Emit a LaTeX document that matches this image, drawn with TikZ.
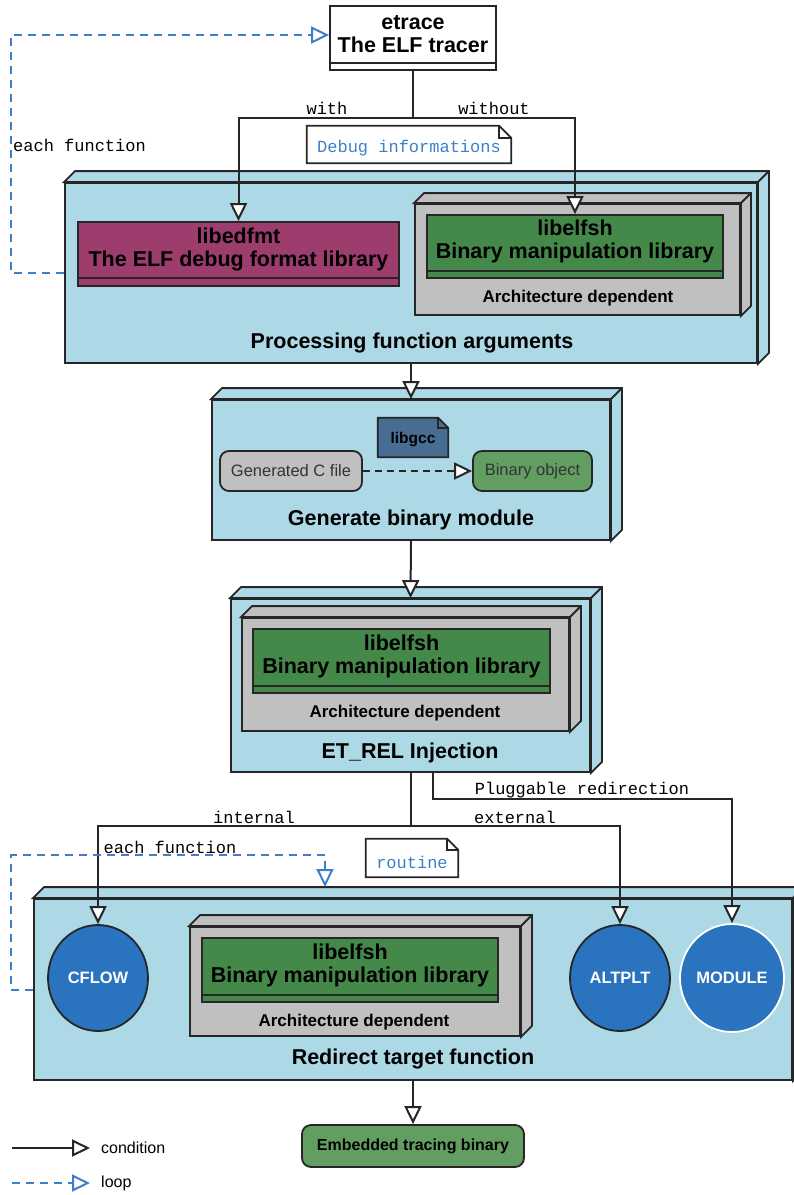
\documentclass[tikz,border=0pt]{standalone}
\usepackage{fontspec}
\setmainfont{Liberation Sans}
\setmonofont{Liberation Mono}
\usetikzlibrary{arrows.meta,shapes.geometric}

\definecolor{boxblue}{HTML}{ADD8E6}
\definecolor{archgray}{HTML}{C0C0C0}
\definecolor{libgreen}{HTML}{45894A}
\definecolor{dbgpurple}{HTML}{9C3D6E}
\definecolor{objgreen}{HTML}{629E62}
\definecolor{gccblue}{HTML}{476D93}
\definecolor{hookblue}{HTML}{2A73BE}
\definecolor{loopblue}{HTML}{3C80CC}

\tikzstyle{boxline}=[draw=black!85,line width=1.8pt,inner sep=0pt]
\tikzstyle{classbox}=[boxline,fill=white]
\tikzstyle{stage}=[boxline,fill=boxblue]
\tikzstyle{archbox}=[boxline,fill=archgray]
\tikzstyle{libbox}=[boxline,fill=libgreen]
\tikzstyle{dbgbox}=[boxline,fill=dbgpurple]
\tikzstyle{notebox}=[inner sep=0pt]
\tikzstyle{filebox}=[boxline,rounded corners=9pt,fill=archgray,text=black!80,font=\fontsize{16.5}{18}\selectfont]
\tikzstyle{objbox}=[filebox,fill=objgreen]
\tikzstyle{hook}=[shape=ellipse,boxline,fill=hookblue,text=white,font=\bfseries\fontsize{16.5}{18}\selectfont,minimum width=100pt,minimum height=106pt]
\tikzstyle{titletext}=[inner sep=0pt,align=center,font=\bfseries\fontsize{21.5}{23}\selectfont]
\tikzstyle{archtext}=[inner sep=0pt,font=\bfseries\fontsize{17}{19}\selectfont]
\tikzstyle{edgetext}=[inner sep=0pt,font=\ttfamily\fontsize{17}{19}\selectfont]
\tikzstyle{notetext}=[edgetext,text=loopblue]
\tikzstyle{legendtext}=[inner sep=0pt,anchor=west,font=\fontsize{16}{18}\selectfont]
\tikzstyle{cond}=[draw=black!85,line width=2pt,-{Triangle[length=18pt,width=17pt,fill=white]}]
\tikzstyle{dashcond}=[cond,dash pattern=on 7pt off 5pt]
\tikzstyle{loopedge}=[cond,draw=loopblue,dash pattern=on 8pt off 6pt]

% top and right faces of a 3d box
\newcommand{\depthfaces}[3]{%
  \draw[boxline,fill=#3] (#1.north west) -- ++(#2,-#2) -- ([shift={(#2,-#2)}]#1.north east)
    -- ([shift={(#2,-#2)}]#1.south east) -- (#1.south east) -- (#1.north east) -- cycle;
  \draw[boxline] (#1.north east) -- ++(#2,-#2);
}
% note with a folded corner
\newcommand{\foldnote}[3]{%
  \draw[boxline,fill=#3] (#1.north west) -- ([xshift=-#2]#1.north east) -- ([yshift=-#2]#1.north east)
    -- (#1.south east) -- (#1.south west) -- cycle;
  \draw[boxline] ([xshift=-#2]#1.north east) |- ([yshift=-#2]#1.north east);
}
\newcommand{\sepline}[2]{%
  \draw[boxline] ([yshift=#2]#1.south west) -- ([yshift=#2]#1.south east);
}

\begin{document}
\begin{tikzpicture}[x=1pt,y=-1pt]
\useasboundingbox (0,0) rectangle (794,1195);
% etrace
\node[classbox,minimum width=166pt,minimum height=64pt] (etrace) at (413,38) {};
\sepline{etrace}{8pt}
\node[titletext] (etracetxt) at (413,34) {etrace\\The ELF tracer};
\node[notebox,minimum width=204pt,minimum height=37pt] (debugnote) at (409,144.5) {};
\foldnote{debugnote}{12pt}{white}
\node[notetext] (debugtxt) at (409,148) {Debug informations};
% processing function arguments
\node[stage,minimum width=692pt,minimum height=180pt] (procbox) at (411,273) {};
\depthfaces{procbox}{11}{boxblue}
\node[dbgbox,minimum width=321pt,minimum height=64pt] (libedfmt) at (238.5,254) {};
\sepline{libedfmt}{9pt}
\node[titletext] (libedfmttxt) at (238.5,249) {libedfmt\\The ELF debug format library};
\node[archbox,minimum width=325pt,minimum height=111pt] (arch1) at (577.5,259.5) {};
\depthfaces{arch1}{10}{archgray}
\node[libbox,minimum width=296pt,minimum height=63pt] (elfsh1) at (575,246.5) {};
\sepline{elfsh1}{8pt}
\node[titletext] (elfsh1txt) at (575,241.5) {libelfsh\\Binary manipulation library};
\node[archtext] (arch1txt) at (578,298) {Architecture dependent};
\node[titletext] (proctxt) at (412,343) {Processing function arguments};
% generate binary module
\node[stage,minimum width=398pt,minimum height=140pt] (genbox) at (411,470) {};
\depthfaces{genbox}{11}{boxblue}
\node[notebox,minimum width=70pt,minimum height=39pt] (libgcc) at (413,437.5) {};
\foldnote{libgcc}{10pt}{gccblue}
\node[archtext,font=\bfseries\fontsize{15.5}{17}\selectfont] (libgcctxt) at (413,440) {libgcc};
\node[filebox,minimum width=142pt,minimum height=40pt] (cfile) at (291,471) {Generated C file};
\node[objbox,minimum width=119pt,minimum height=40pt] (binobj) at (532.5,471) {Binary object};
\node[titletext] (gentxt) at (411,520) {Generate binary module};
% ET_REL injection
\node[stage,minimum width=359pt,minimum height=173pt] (etrel) at (410.5,685.5) {};
\depthfaces{etrel}{11}{boxblue}
\node[archbox,minimum width=327pt,minimum height=113pt] (arch2) at (405.5,674.5) {};
\depthfaces{arch2}{11}{archgray}
\node[libbox,minimum width=297pt,minimum height=64pt] (elfsh2) at (401.5,661) {};
\sepline{elfsh2}{8pt}
\node[titletext] (elfsh2txt) at (401.5,656) {libelfsh\\Binary manipulation library};
\node[archtext] (arch2txt) at (405,713) {Architecture dependent};
\node[titletext] (etreltxt) at (410,753) {ET\_REL Injection};
% redirect target function
\node[stage,minimum width=758pt,minimum height=181pt] (redirect) at (413,989.5) {};
\depthfaces{redirect}{11}{boxblue}
\node[hook] (cflow) at (98,978) {CFLOW};
\node[archbox,minimum width=330pt,minimum height=109pt] (arch3) at (355,981.5) {};
\depthfaces{arch3}{11}{archgray}
\node[libbox,minimum width=296pt,minimum height=64pt] (elfsh3) at (350,970) {};
\sepline{elfsh3}{8pt}
\node[titletext] (elfsh3txt) at (350,965) {libelfsh\\Binary manipulation library};
\node[archtext] (arch3txt) at (354,1022) {Architecture dependent};
\node[hook] (altplt) at (620,978) {ALTPLT};
\node[hook,draw=white,minimum width=104pt,minimum height=108pt] (module) at (732,978) {MODULE};
\node[titletext] (redirtxt) at (413,1059) {Redirect target function};
\node[notebox,minimum width=92pt,minimum height=38pt] (routinenote) at (412,858) {};
\foldnote{routinenote}{11pt}{white}
\node[notetext] (routinetxt) at (412,862) {routine};
\node[objbox,minimum width=222pt,minimum height=42pt,text=black,font=\bfseries\fontsize{16}{18}\selectfont] (embedded) at (413,1146) {Embedded tracing binary};
% connectors
\draw[cond] (etrace.south) -- ++(0,47) coordinate (split1) -| (libedfmt.north);
\draw[cond] (split1) -| (elfsh1.north);
\node[edgetext] (withlbl) at (327,108) {with};
\node[edgetext] (withoutlbl) at (494,108) {without};
\draw[loopedge] (procbox.west) -- ++(-53,0) |- ([yshift=3pt]etrace.west);
\node[edgetext,anchor=west] (eachfn1) at (13,145) {each function};
\draw[cond] (procbox.south) -- (genbox.north);
\draw[dashcond] (cfile) -- (binobj);
\draw[cond] (genbox.south) -- (etrel.north);
\draw[cond] (etrel.south) -- ++(0,53) coordinate (split2) -| (cflow.north);
\draw[cond] (split2) -| (altplt.north);
\draw[cond] ([xshift=22.5pt]etrel.south) -- ++(0,26) -| (module.north);
\node[edgetext] (internallbl) at (254,817) {internal};
\node[edgetext] (externallbl) at (515,817) {external};
\node[edgetext] (pluglbl) at (582,790) {Pluggable redirection};
\coordinate (looptop) at (325,855);
\coordinate (loopend) at (325,887);
\draw[loopedge] (redirect.west) -- ++(-22,0) |- (looptop) -- (loopend);
\node[edgetext] (eachfn2) at (170,847) {each function};
\draw[cond] (redirect.south) -- (embedded.north);
% legend
\coordinate (condstart) at (12,1148);
\coordinate (condend) at (90,1148);
\draw[cond] (condstart) -- (condend);
\node[legendtext] (condlbl) at (101,1148) {condition};
\coordinate (loopstart) at (12,1183);
\coordinate (loopstop) at (90,1183);
\draw[loopedge] (loopstart) -- (loopstop);
\node[legendtext] (looplbl) at (101,1183) {loop};
\end{tikzpicture}
\end{document}
